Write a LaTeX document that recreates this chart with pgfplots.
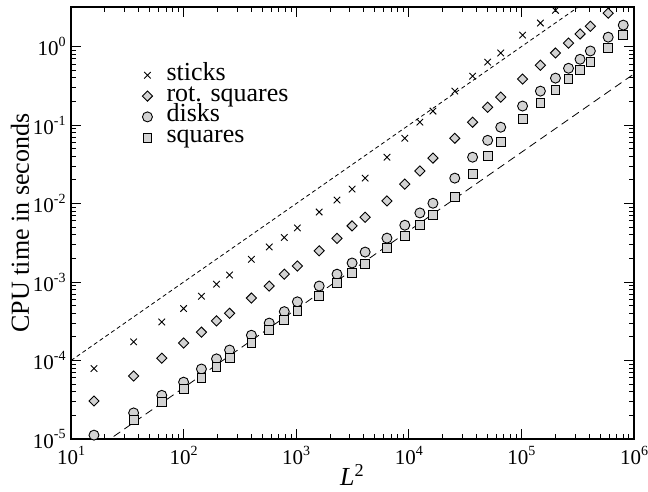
\documentclass[border=0pt]{standalone}
\usepackage{fontspec}
\setmainfont{Liberation Serif}
\usepackage{pgfplots}
\pgfplotsset{compat=1.18}
% power of ten as plain text, with a small raised exponent
\newcommand{\pten}[1]{10\raisebox{0.95ex}{\fontsize{7}{8}\selectfont #1}}

\begin{document}
\begin{tikzpicture}
\definecolor{markfill}{RGB}{211,211,211}
\begin{loglogaxis}[
    scale only axis,
    width=281.5pt, height=216pt,
    xmin=10, xmax=1e6,
    ymin=1e-5, ymax=3.2,
    xlabel={\textit{L}\textsuperscript{2}},
    ylabel={CPU time in seconds},
    label style={font=\fontsize{13}{15}\selectfont},
    ylabel style={at={(axis description cs:-0.075,0.5)}, anchor=base, inner sep=0pt},
    xlabel style={at={(axis description cs:0.5,-0.1065)}, anchor=base, inner sep=0pt},
    xtick={10,100,1000,10000,100000,1000000},
    xticklabels={\pten{1},\pten{2},\pten{3},\pten{4},\pten{5},\pten{6}},
    ytick={1e-5,1e-4,1e-3,1e-2,1e-1,1},
    yticklabels={\pten{-5},\pten{-4},\pten{-3},\pten{-2},\pten{-1},\pten{0}},
    ticklabel style={font=\fontsize{10.5}{12}\selectfont},
    yticklabel style={inner sep=2.5pt},
    tick style={black, line width=0.5pt},
    axis line style={line width=0.75pt},
    major tick length=5pt,
    minor tick length=2.6pt,
    legend style={at={(0.126,0.866)}, anchor=north west, draw=none, fill=none,
                  inner sep=0pt, row sep=0.4pt, column sep=6.5pt,
                  font=\fontsize{13}{15}\selectfont,
                  nodes={inner sep=0.5pt, text height=7pt, text depth=2pt}},
    legend cell align=left,
  ]

  % reference power laws  t ~ L^2
  \addplot[forget plot, black, line width=0.4pt, dash pattern=on 2pt off 1.5pt]
    coordinates {(10,1e-4) (1e6,10)};
  \addplot[forget plot, black, line width=0.4pt, dash pattern=on 4pt off 2.5pt]
    coordinates {(10,4.5e-6) (1e6,0.45)};

  % sticks
  \addplot[only marks, mark=x, mark size=2.3pt, black, line width=0.45pt]
    coordinates {
    (16,7.9e-5) (36,1.73e-4) (64,3.1e-4) (100,4.6e-4) (144,6.6e-4) (196,9.4e-4)
    (256,1.23e-3) (400,1.95e-3) (576,2.8e-3) (784,3.7e-3) (1024,4.9e-3)
    (1600,7.8e-3) (2304,1.11e-2) (3136,1.53e-2) (4096,2.11e-2) (6400,3.9e-2)
    (9216,6.8e-2) (12544,0.109) (16384,0.151) (25600,0.271) (36864,0.42)
    (50176,0.635) (65536,0.83) (102400,1.40) (147456,2.0) (200704,2.9)
    };
  \addlegendentry{sticks}

  % rotated squares
  \addplot[only marks, mark=square*, mark size=1.8pt, mark options={rotate=45},
           draw=black, fill=markfill, line width=0.45pt]
    coordinates {
    (16,3.05e-5) (36,6.35e-5) (64,1.07e-4) (100,1.67e-4) (144,2.3e-4) (196,3.2e-4)
    (256,4.0e-4) (400,6.25e-4) (576,8.9e-4) (784,1.26e-3) (1024,1.6e-3)
    (1600,2.5e-3) (2304,3.6e-3) (3136,5.2e-3) (4096,6.7e-3) (6400,1.08e-2)
    (9216,1.77e-2) (12544,2.6e-2) (16384,3.8e-2) (25600,6.8e-2) (36864,0.109)
    (50176,0.169) (65536,0.227) (102400,0.386) (147456,0.58) (200704,0.83)
    (262144,1.11) (331776,1.45) (409600,1.82) (589824,2.67)
    };
  \addlegendentry{rot. squares}

  % disks
  \addplot[only marks, mark=*, mark size=2.5pt, draw=black, fill=markfill, line width=0.45pt]
    coordinates {
    (16,1.12e-5) (36,2.15e-5) (64,3.6e-5) (100,5.3e-5) (144,7.8e-5) (196,1.05e-4)
    (256,1.36e-4) (400,2.1e-4) (576,3.0e-4) (784,4.2e-4) (1024,5.6e-4)
    (1600,8.9e-4) (2304,1.26e-3) (3136,1.75e-3) (4096,2.41e-3) (6400,3.63e-3)
    (9216,5.3e-3) (12544,7.6e-3) (16384,1.01e-2) (25600,2.11e-2) (36864,3.9e-2)
    (50176,6.4e-2) (65536,9.4e-2) (102400,0.175) (147456,0.271) (200704,0.397)
    (262144,0.53) (331776,0.69) (409600,0.88) (589824,1.32) (802816,1.88)
    };
  \addlegendentry{disks}

  % squares
  \addplot[only marks, mark=square*, mark size=2.2pt, draw=black, fill=markfill, line width=0.45pt]
    coordinates {
    (36,1.75e-5) (64,2.95e-5) (100,4.3e-5) (144,6.0e-5) (196,8.3e-5)
    (256,1.07e-4) (400,1.67e-4) (576,2.44e-4) (784,3.28e-4) (1024,4.3e-4)
    (1600,6.6e-4) (2304,9.7e-4) (3136,1.30e-3) (4096,1.70e-3) (6400,2.71e-3)
    (9216,3.85e-3) (12544,5.3e-3) (16384,7.1e-3) (25600,1.21e-2) (36864,2.38e-2)
    (50176,4.03e-2) (65536,6.07e-2) (102400,0.119) (147456,0.19) (200704,0.279)
    (262144,0.385) (331776,0.50) (409600,0.635) (589824,0.957) (802816,1.40)
    };
  \addlegendentry{squares}

\end{loglogaxis}
\pgfresetboundingbox
\path[use as bounding box] (-35.5pt,-26.5pt) rectangle (288.5pt,219.5pt);
\end{tikzpicture}
\end{document}
